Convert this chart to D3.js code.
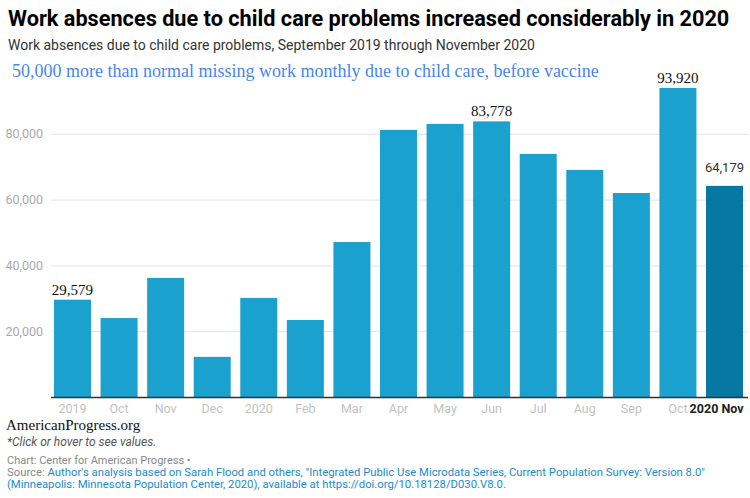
<!DOCTYPE html>
<html>
<head>
<meta charset="utf-8">
<script src="https://cdn.jsdelivr.net/npm/d3@7"></script>
<style>
  body { margin: 0; background: #fff; }
  svg { display: block; }
</style>
</head>
<body>
<div id="chart"></div>
<script>
// Width and height for the SVG element
const w = 750;
const h = 498;

// Chart data
const months = ["2019", "Oct", "Nov", "Dec", "2020", "Feb", "Mar", "Apr", "May", "Jun", "Jul", "Aug", "Sep", "Oct", "2020 Nov"];
const absences = [29579, 24000, 36200, 12200, 30100, 23400, 47100, 81200, 83000, 83778, 73900, 69000, 62000, 93920, 64179];
const yTicks = [20000, 40000, 60000, 80000];
const labelled = [0, 9, 13]; // bars with a serif value label

const svg = d3.select("#chart")
    .append("svg")
    .attr("width", w)
    .attr("height", h);

// Scales
const xScale = d3.scaleBand()
    .domain(d3.range(months.length))
    .range([49.2, 747.8])
    .paddingInner(0.2055)
    .paddingOuter(0.103);

const yScale = d3.scaleLinear()
    .domain([0, 100000])
    .range([397, 68]);

// Title and subtitle
svg.append("text")
    .attr("x", 8).attr("y", 26)
    .attr("font-family", "Roboto").attr("font-weight", "bold")
    .attr("font-size", "21.7px").attr("fill", "#000")
    .text("Work absences due to child care problems increased considerably in 2020");

svg.append("text")
    .attr("x", 8).attr("y", 50)
    .attr("font-family", "Roboto").attr("font-size", "14px").attr("fill", "#333")
    .text("Work absences due to child care problems, September 2019 through November 2020");

// Gridlines and y labels
const yAxis = d3.axisLeft(yScale)
    .tickValues(yTicks)
    .tickSize(-(748 - 51))
    .tickFormat(d3.format(","));

svg.append("g")
    .attr("transform", "translate(51,0)")
    .call(yAxis)
    .call(g => g.select(".domain").remove())
    .call(g => g.selectAll(".tick line").attr("stroke", "#e3e3e3"))
    .call(g => g.selectAll(".tick text")
        .attr("x", -8)
        .attr("font-family", "Roboto").attr("font-size", "12.5px").attr("fill", "#aaa"));

// Bars
svg.selectAll("rect.bar")
    .data(absences)
    .enter()
    .append("rect")
    .attr("class", "bar")
    .attr("x", (d, i) => xScale(i))
    .attr("y", d => yScale(d))
    .attr("width", xScale.bandwidth())
    .attr("height", d => yScale(0) - yScale(d))
    .attr("fill", (d, i) => i === months.length - 1 ? "#0778a1" : "#1aa1cd");

// Baseline
svg.append("line")
    .attr("x1", 51).attr("x2", 748)
    .attr("y1", yScale(0) + 0.5).attr("y2", yScale(0) + 0.5)
    .attr("stroke", "#333").attr("stroke-width", 1.3);

// X labels
const xAxis = d3.axisBottom(xScale)
    .tickSize(0)
    .tickPadding(7)
    .tickFormat(i => months[i]);

svg.append("g")
    .attr("transform", `translate(0,${yScale(0)})`)
    .call(xAxis)
    .call(g => g.select(".domain").remove())
    .call(g => g.selectAll(".tick text")
        .attr("font-family", "Roboto").attr("font-size", "12.5px").attr("fill", "#c2c2c2"))
    .call(g => g.selectAll(".tick").filter(i => i === months.length - 1).select("text")
        .attr("text-anchor", "end")
        .attr("x", xScale.bandwidth() / 2 + 0.5)
        .attr("font-weight", "bold").attr("fill", "#222"));

// Serif value labels
svg.selectAll("text.val")
    .data(labelled)
    .enter()
    .append("text")
    .attr("class", "val")
    .attr("x", i => xScale(i) + xScale.bandwidth() / 2)
    .attr("y", i => yScale(absences[i]) - 5)
    .attr("text-anchor", "middle")
    .attr("font-family", "Liberation Serif, Times New Roman, serif")
    .attr("font-size", "15px").attr("fill", "#111")
    .text(i => d3.format(",")(absences[i]));

// Last bar label
const last = months.length - 1;
svg.append("text")
    .attr("x", xScale(last) + xScale.bandwidth() / 2)
    .attr("y", yScale(absences[last]) - 14)
    .attr("text-anchor", "middle")
    .attr("font-family", "Roboto").attr("font-size", "13px").attr("fill", "#333")
    .text(d3.format(",")(absences[last]));

// Annotation
svg.append("text")
    .attr("x", 12).attr("y", 77)
    .attr("font-family", "Liberation Serif, Times New Roman, serif")
    .attr("font-size", "18px").attr("fill", "#4a86e8")
    .text("50,000 more than normal missing work monthly due to child care, before vaccine");

// Footer
svg.append("text")
    .attr("x", 6).attr("y", 430)
    .attr("font-family", "Liberation Serif, Times New Roman, serif")
    .attr("font-size", "15px").attr("fill", "#111")
    .text("AmericanProgress.org");

svg.append("text")
    .attr("x", 7).attr("y", 445.5)
    .attr("font-family", "Roboto").attr("font-style", "italic")
    .attr("font-size", "12px").attr("fill", "#555")
    .text("*Click or hover to see values.");

svg.append("text")
    .attr("x", 7).attr("y", 464)
    .attr("font-family", "Roboto").attr("font-size", "11px").attr("fill", "#888")
    .text("Chart: Center for American Progress •");

const src1 = svg.append("text")
    .attr("x", 7).attr("y", 476)
    .attr("font-family", "Roboto").attr("font-size", "11.3px");
src1.append("tspan").attr("fill", "#888").text("Source: ");
src1.append("tspan").attr("fill", "#1a8bd0")
    .text("Author's analysis based on Sarah Flood and others, \"Integrated Public Use Microdata Series, Current Population Survey: Version 8.0\"");

svg.append("text")
    .attr("x", 7).attr("y", 488)
    .attr("font-family", "Roboto").attr("font-size", "11.3px").attr("fill", "#1a8bd0")
    .text("(Minneapolis: Minnesota Population Center, 2020), available at https://doi.org/10.18128/D030.V8.0.");
</script>
</body>
</html>
